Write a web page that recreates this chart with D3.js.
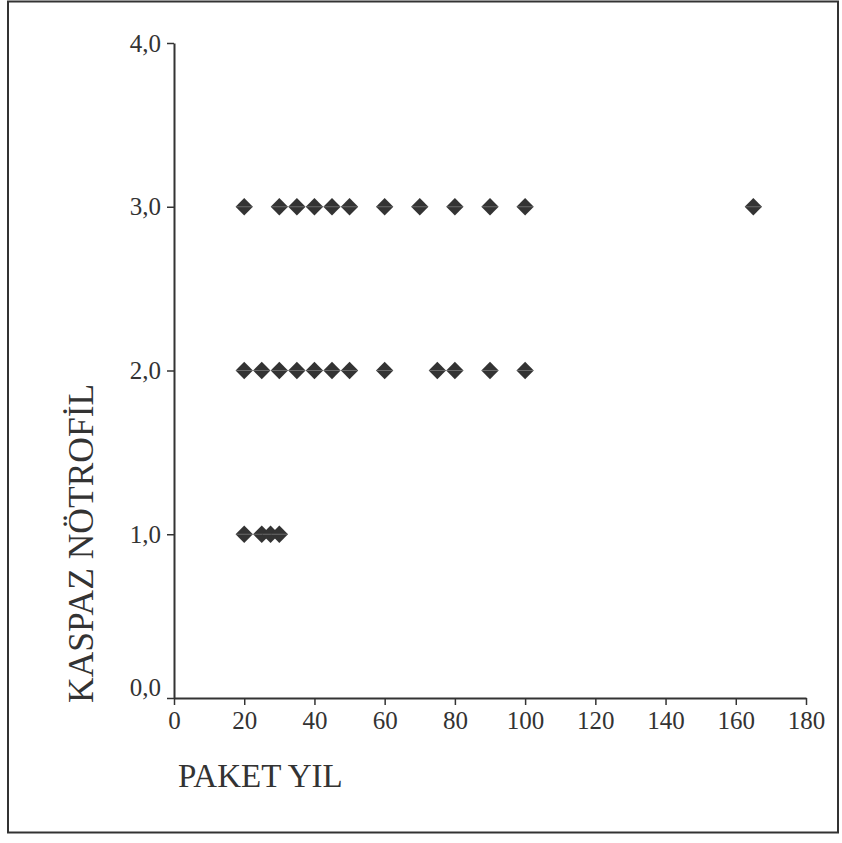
<!DOCTYPE html>
<html>
<head>
<meta charset="utf-8">
<script src="https://cdn.jsdelivr.net/npm/d3@7"></script>
<style>
  body { margin: 0; background: #fff; }
  text { font-family: "Liberation Serif", "Times New Roman", serif; fill: #333; }
</style>
</head>
<body>
<div id="chart"></div>
<script>
// values
var paketYil = [20, 30, 35, 40, 45, 50, 60, 70, 80, 90, 100, 165,
                20, 25, 30, 35, 40, 45, 50, 60, 75, 80, 90, 100,
                20, 25, 27.5, 30];
var kaspaz   = [3, 3, 3, 3, 3, 3, 3, 3, 3, 3, 3, 3,
                2, 2, 2, 2, 2, 2, 2, 2, 2, 2, 2, 2,
                1, 1, 1, 1];
var xTicks = [0, 20, 40, 60, 80, 100, 120, 140, 160, 180];
var yTicks = [0, 1, 2, 3, 4];

var data = paketYil.map(function (d, i) { return {x: d, y: kaspaz[i]}; });

var W = 842, H = 843;
var svg = d3.select("#chart").append("svg")
    .attr("width", W)
    .attr("height", H);

// outer frame
svg.append("rect")
    .attr("x", 8).attr("y", 1.5)
    .attr("width", 830).attr("height", 831)
    .attr("fill", "none")
    .attr("stroke", "#333")
    .attr("stroke-width", 2);

var x = d3.scaleLinear().domain([0, 180]).range([174, 806]);
var y = d3.scaleLinear().domain([0, 4]).range([698, 43]);

var comma = function (d) { return d3.format(".1f")(d).replace(".", ","); };

// x axis
var gx = svg.append("g")
    .attr("transform", "translate(0,698)")
    .call(d3.axisBottom(x).tickValues(xTicks).tickSize(7).tickPadding(6).tickSizeOuter(0));

// y axis
var gy = svg.append("g")
    .attr("transform", "translate(174,0)")
    .call(d3.axisLeft(y).tickValues(yTicks).tickFormat(comma).tickSize(7).tickPadding(6).tickSizeOuter(0));

[gx, gy].forEach(function (g) {
    g.attr("font-family", null);
    g.select(".domain").attr("stroke", "#333").attr("stroke-width", 2);
    g.selectAll(".tick line").attr("stroke", "#333").attr("stroke-width", 1.5);
    g.selectAll(".tick text")
        .style("font-family", "'Liberation Serif', serif")
        .style("font-size", "25px")
        .attr("fill", "#333");
});
gy.selectAll(".tick text").attr("dy", "0.32em");
gy.selectAll(".tick").filter(function (d) { return d === 0; })
    .select("text").attr("dy", "-0.1em");

// markers
var diamond = d3.symbol().type(d3.symbolSquare).size(150);
var marks = svg.append("g").selectAll("g")
    .data(data)
    .enter().append("g")
    .attr("transform", function (d) {
        return "translate(" + x(d.x) + "," + y(d.y) + ")";
    });
marks.append("path")
    .attr("d", diamond)
    .attr("transform", "rotate(45)")
    .attr("fill", "#333");
// faint centre line seen in the original markers
marks.append("line")
    .attr("x1", -8).attr("x2", 8)
    .attr("stroke", "#777")
    .attr("stroke-width", 0.8);

// axis titles
svg.append("text")
    .attr("transform", "translate(93,703) rotate(-90)")
    .attr("text-anchor", "start")
    .style("font-size", "35.5px")
    .text("KASPAZ NÖTROFİL");

svg.append("text")
    .attr("x", 178)
    .attr("y", 787)
    .style("font-size", "33px")
    .text("PAKET YIL");
</script>
</body>
</html>
